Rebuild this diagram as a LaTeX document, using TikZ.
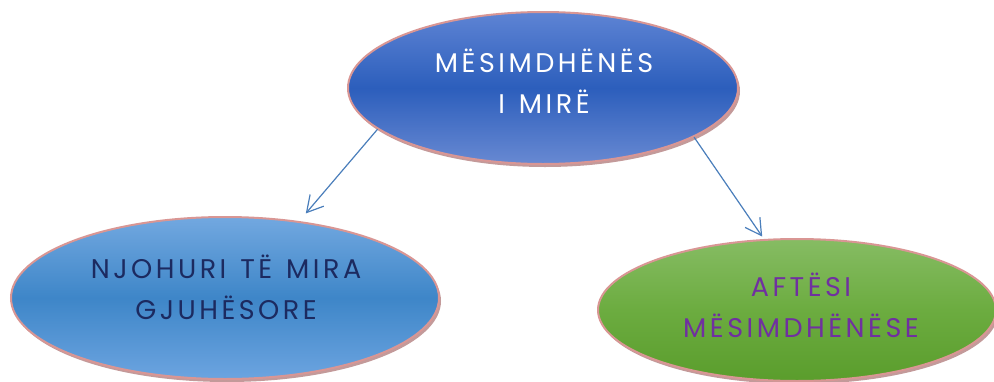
\documentclass[tikz,border=0pt]{standalone}
\usepackage{fontspec}
\usetikzlibrary{shapes.geometric,arrows.meta,shadows}
\newfontfamily\handfont[LetterSpace=13,WordSpace=1.3]{Poppins}
\definecolor{rim}{HTML}{D99694}
\definecolor{shade}{HTML}{C39A9A}
\definecolor{arrowblue}{HTML}{4A7EBB}
\definecolor{navytext}{HTML}{1C2A60}
\definecolor{purpletext}{HTML}{7030A0}
\definecolor{topA}{RGB}{94,132,212}
\definecolor{topB}{RGB}{44,94,188}
\definecolor{topC}{RGB}{104,137,210}
\definecolor{leftA}{RGB}{114,168,224}
\definecolor{leftB}{RGB}{62,134,200}
\definecolor{leftC}{RGB}{108,164,224}
\definecolor{rightA}{RGB}{134,188,99}
\definecolor{rightB}{RGB}{108,172,64}
\definecolor{rightC}{RGB}{90,157,44}
\tikzset{
  bubble/.style={ellipse, draw=rim, line width=2pt, inner sep=0pt,
    drop shadow={shadow xshift=2pt, shadow yshift=-3pt, fill=shade, opacity=1}},
  bubbletext/.style={align=center, font=\handfont\fontsize{27}{41}\selectfont},
  conn/.style={draw=arrowblue, line width=1.2pt, -{Straight Barb[length=16pt,width=18pt]}}
}
\begin{document}
\begin{tikzpicture}[x=1pt,y=-1pt]
\useasboundingbox (0,0) rectangle (994,381);
\clip (0,0) rectangle (994,381);
\node[bubble, minimum width=390pt, minimum height=152pt,
  top color=topA, bottom color=topC, middle color=topB] (top) at (543,88) {};
\node[bubble, minimum width=428pt, minimum height=162pt,
  top color=leftA, bottom color=leftC, middle color=leftB] (left) at (225,298) {};
\node[bubble, minimum width=398pt, minimum height=142pt,
  top color=rightA, bottom color=rightC, middle color=rightB] (right) at (797,310) {};
\node[bubbletext, text=white] (toptext) at (544,81) {MËSIMDHËNËS\\I MIRË};
\node[bubbletext, text=navytext] (lefttext) at (226,287) {NJOHURI TË MIRA\\GJUHËSORE};
\node[bubbletext, text=purpletext] (righttext) at (801,305) {AFTËSI\\MËSIMDHËNËSE};
\draw[conn, shorten >=10pt] (top.194) -- (left.46);
\draw[conn, shorten >=3pt] (top.342) -- (right.115);
\end{tikzpicture}
\end{document}
